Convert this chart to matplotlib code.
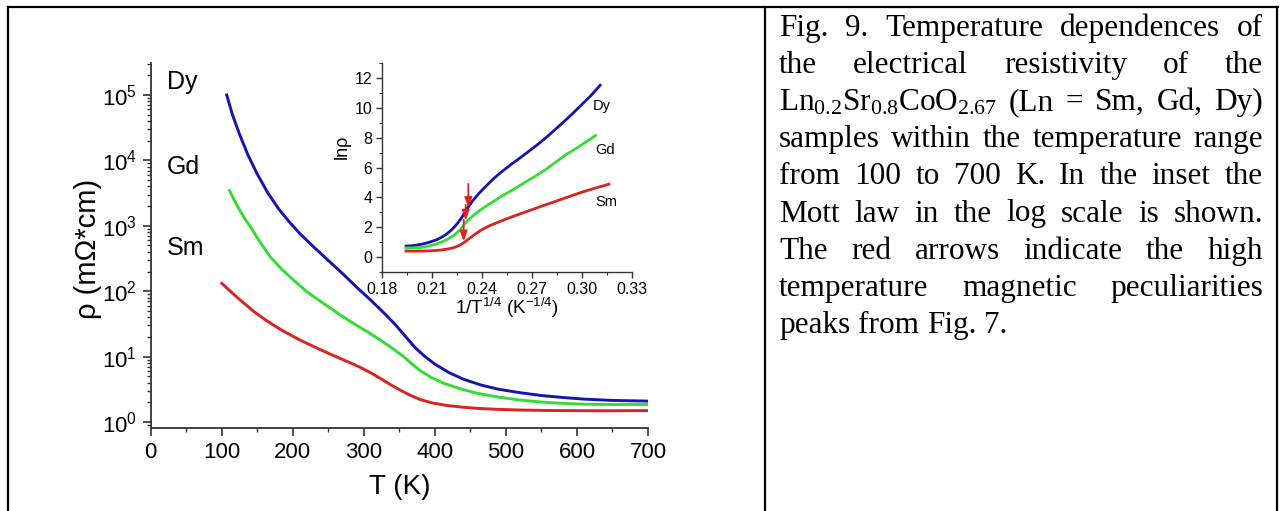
import numpy as np
import matplotlib
matplotlib.use("Agg")
import matplotlib.pyplot as plt
from matplotlib.lines import Line2D
from matplotlib.ticker import MultipleLocator, LogLocator, NullFormatter, FormatStrFormatter

plt.rcParams['font.family'] = ['Liberation Sans', 'DejaVu Sans']

# resistivity curves (T in K, log10 of rho in mOhm*cm)
T_dy = [107, 115, 125, 137, 150, 165, 180, 195, 210, 230, 250, 270, 290, 310, 330, 345,
        360, 372, 385, 400, 420, 440, 465, 490, 520, 550, 580, 610, 650, 700]
lg_dy = [5.00, 4.70, 4.40, 4.08, 3.79, 3.50, 3.26, 3.06, 2.88, 2.67, 2.47, 2.27, 2.06, 1.86,
         1.65, 1.48, 1.29, 1.14, 1.01, 0.885, 0.755, 0.655, 0.565, 0.50, 0.448, 0.405, 0.375,
         0.35, 0.33, 0.32]

T_gd = [111, 120, 130, 140, 154, 168, 184, 201, 220, 243, 265, 285, 305, 323, 340, 356,
        368, 380, 395, 412, 435, 459, 490, 520, 550, 580, 610, 650, 700]
lg_gd = [3.537, 3.34, 3.15, 2.99, 2.75, 2.53, 2.34, 2.17, 1.99, 1.815, 1.65, 1.51, 1.38,
         1.254, 1.13, 1.00, 0.885, 0.78, 0.68, 0.595, 0.51, 0.44, 0.38, 0.336, 0.305, 0.285,
         0.272, 0.268, 0.268]

T_sm = [100, 112, 126, 145, 163, 185, 210, 238, 266, 280, 295, 310, 323, 337, 351, 365, 379,
        395, 417, 440, 459, 490, 520, 560, 609, 650, 700]
lg_sm = [2.12, 2.00, 1.865, 1.69, 1.55, 1.40, 1.254, 1.11, 0.974, 0.91, 0.835, 0.75, 0.668,
         0.575, 0.489, 0.41, 0.345, 0.295, 0.252, 0.226, 0.209, 0.193, 0.183, 0.176, 0.173,
         0.172, 0.175]

names = ['Dy', 'Gd', 'Sm']
colors = ['#1414b0', '#33dd33', '#dd2222']

# red arrows in the inset: x, y start, y end
arrow_x = [0.2318, 0.2302, 0.2290]
arrow_y0 = [4.9, 3.5, 2.5]
arrow_y1 = [3.3, 2.45, 1.05]

caption = [
    "Fig. 9. Temperature dependences of",
    "the electrical resistivity of the",
    r"$\mathdefault{Ln_{0.2}Sr_{0.8}CoO_{2.67}}$ (Ln = Sm, Gd, Dy)",
    "samples within the temperature range",
    "from 100 to 700 K. In the inset the",
    "Mott law in the log scale is shown.",
    "The red arrows indicate the high",
    "temperature magnetic peculiarities",
    "peaks from Fig. 7.",
]

W, H = 1288, 511
fig = plt.figure(figsize=(W / 100, H / 100), dpi=100)

# table frame
def hline(x0, x1, y, lw=1.6):
    fig.add_artist(Line2D([x0 / W, x1 / W], [1 - y / H, 1 - y / H], color='black', lw=lw))

def vline(x, y0, y1, lw=1.6):
    fig.add_artist(Line2D([x / W, x / W], [1 - y0 / H, 1 - y1 / H], color='black', lw=lw))

hline(8, 1278, 7.5)
vline(8, 7, 511)
vline(765, 7, 511)
vline(1277, 7, 511)

# main plot
ax = fig.add_axes([150.7 / W, 83 / H, 497.3 / W, 365 / H])
data = [(T_dy, lg_dy), (T_gd, lg_gd), (T_sm, lg_sm)]
rho = [(np.array(t, float), 10.0 ** np.array(lg)) for t, lg in data]
for (t, r), c in zip(rho, colors):
    ax.plot(t, r, color=c, lw=2.1, solid_joinstyle='round')
ax.set_yscale('log')
ax.set_xlim(0, 700)
ax.set_ylim(0.81, 3.08e5)
ax.xaxis.set_major_locator(MultipleLocator(100))
ax.xaxis.set_minor_locator(MultipleLocator(50))
ax.yaxis.set_major_locator(LogLocator(base=10, numticks=10))
ax.yaxis.set_minor_locator(LogLocator(base=10, subs=np.arange(2, 10), numticks=20))
ax.yaxis.set_minor_formatter(NullFormatter())
for s in ['top', 'right']:
    ax.spines[s].set_visible(False)
for s in ['left', 'bottom']:
    ax.spines[s].set_color('#333333')
    ax.spines[s].set_linewidth(1.3)
ax.tick_params(which='major', direction='out', length=6, width=1.2, labelsize=16, color='#333333', pad=4)
ax.tick_params(which='minor', direction='out', length=3, width=1.0, color='#333333')
ax.set_xlabel('T (K)', fontsize=20)
ax.xaxis.set_label_coords(0.5, -0.125)
ax.set_ylabel('ρ (mΩ*cm)', fontsize=21)
ax.yaxis.set_label_coords(-0.098, 0.49)
label_y = [1.6e5, 7.9e3, 457]
for n, yv in zip(names, label_y):
    ax.text(23, yv, n, fontsize=18, va='center', ha='left')

# inset: Mott law
ins = fig.add_axes([382 / W, 239 / H, 250 / W, 209 / H])
ins.set_facecolor('none')
for (t, r), c in zip(rho, colors):
    ins.plot(t ** -0.25, np.log(r), color=c, lw=2.0, solid_joinstyle='round')
for x, y0, y1 in zip(arrow_x, arrow_y0, arrow_y1):
    ins.annotate('', xy=(x, y1), xytext=(x, y0),
                 arrowprops=dict(arrowstyle='-|>,head_length=0.6,head_width=0.22',
                                 color='#dd2222', lw=1.3, shrinkA=0, shrinkB=0))
ins.set_xlim(0.18, 0.33)
ins.set_ylim(-1, 13)
ins.xaxis.set_major_locator(MultipleLocator(0.03))
ins.xaxis.set_minor_locator(MultipleLocator(0.015))
ins.xaxis.set_major_formatter(FormatStrFormatter('%.2f'))
ins.yaxis.set_major_locator(MultipleLocator(2))
ins.yaxis.set_minor_locator(MultipleLocator(1))
for s in ['top', 'right']:
    ins.spines[s].set_visible(False)
for s in ['left', 'bottom']:
    ins.spines[s].set_color('#333333')
    ins.spines[s].set_linewidth(1.0)
ins.tick_params(which='major', direction='out', length=4, width=1.0, labelsize=11.5, color='#333333', pad=3)
ins.tick_params(which='minor', direction='out', length=2, width=0.8, color='#333333')
ins.set_xlabel(r'1/T$^{\mathdefault{1/4}}$ (K$^{\mathdefault{-1/4}}$)', fontsize=13.5)
ins.xaxis.set_label_coords(0.5, -0.11)
ins.set_ylabel('lnρ', fontsize=13)
ins.yaxis.set_label_coords(-0.124, 0.6)
ins_lab_x = [0.3066, 0.3078, 0.308]
ins_lab_y = [10.1, 7.2, 3.67]
for n, xv, yv in zip(names, ins_lab_x, ins_lab_y):
    ins.text(xv, yv, n, fontsize=10.5, va='center', ha='left')

# caption, justified
renderer = fig.canvas.get_renderer()
x_left, x_right = 779, 1263
base0, step = 36, 37.1
for i, line in enumerate(caption):
    words = line.split(' ')
    y = 1 - (base0 + i * step) / H
    texts = [fig.text(0, y, w, fontsize=22.5, family=['Liberation Serif', 'DejaVu Serif'],
                      va='baseline', ha='left') for w in words]
    widths = [t.get_window_extent(renderer).width for t in texts]
    if i < len(caption) - 1 and len(words) > 1:
        gap = (x_right - x_left - sum(widths)) / (len(words) - 1)
    else:
        gap = 22.5 * 100 / 72 * 0.25
    x = x_left
    for t, w in zip(texts, widths):
        t.set_x(x / W)
        x += w + gap

fig.savefig('out.png', dpi=100)
